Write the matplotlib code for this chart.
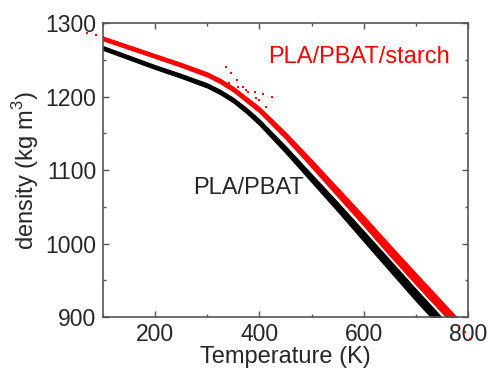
import matplotlib
matplotlib.use("Agg")
import matplotlib.pyplot as plt
import numpy as np
from matplotlib.ticker import MultipleLocator

plt.rcParams['font.family'] = ['Liberation Sans', 'DejaVu Sans']
plt.rcParams['mathtext.fontset'] = 'custom'
plt.rcParams['mathtext.rm'] = 'Liberation Sans'

# PLA/PBAT/starch (red) band centre and vertical half-spread
T_red = [60, 100, 150, 200, 250, 300, 325, 350, 375, 400, 450, 500, 550, 600, 650, 700, 768, 790]
rho_red = [1289, 1279, 1267, 1255, 1243, 1230, 1221, 1210, 1196, 1182, 1147, 1109, 1070, 1031, 991, 952, 900, 883]
spread_red = [2.6, 2.6, 2.6, 2.6, 2.7, 2.9, 3.0, 3.2, 3.4, 3.7, 4.4, 5.2, 6.0, 6.8, 7.4, 7.8, 7.8, 7.8]

# PLA/PBAT (black) band centre and vertical half-spread
T_blk = [60, 100, 150, 200, 250, 300, 325, 350, 375, 400, 450, 500, 550, 600, 650, 700, 739, 760]
rho_blk = [1276, 1266, 1253, 1240, 1228, 1215, 1206, 1195, 1181, 1165, 1128, 1089, 1050, 1010, 970, 930, 900, 883]
spread_blk = [2.6, 2.6, 2.6, 2.6, 2.7, 2.9, 3.0, 3.2, 3.5, 3.9, 4.6, 5.4, 6.2, 7.0, 7.6, 8.0, 8.0, 8.0]

# stray red points
T_stray = [335, 346, 357, 368, 378, 394, 310, 326, 342, 358, 374, 391, 406, 425, 400, 413,
           70, 87, 782, 795, 804]
rho_stray = [1240, 1232, 1222, 1213, 1206, 1198, 1227, 1222, 1218, 1213, 1209, 1206, 1203, 1199, 1195, 1186,
             1287, 1283, 888, 879, 870]

xlim = (100, 800)
ylim = (900, 1300)
xticks = [200, 400, 600, 800]
yticks = [900, 1000, 1100, 1200, 1300]

fig = plt.figure(figsize=(4.89, 3.74), dpi=100)
ax = fig.add_axes([0.2106, 0.1524, 0.7464, 0.7861])

Tb = np.array(T_blk); rb = np.array(rho_blk); sb = np.array(spread_blk)
Tr = np.array(T_red); rr = np.array(rho_red); sr = np.array(spread_red)
ax.fill_between(Tb, rb - sb, rb + sb, color='black', lw=0.8, edgecolor='black')
ax.fill_between(Tr, rr - sr, rr + sr, color='red', lw=0.8, edgecolor='red')
ax.plot(T_stray, rho_stray, ls='none', marker='s', ms=1.8, color='red', mew=0, clip_on=False)

ax.set_xlim(*xlim)
ax.set_ylim(*ylim)
ax.set_xticks(xticks)
ax.set_yticks(yticks)
ax.xaxis.set_minor_locator(MultipleLocator(100))
ax.yaxis.set_minor_locator(MultipleLocator(50))

spine_c = '#555555'
for s in ax.spines.values():
    s.set_color(spine_c)
    s.set_linewidth(1.2)
ax.tick_params(which='both', direction='in', top=True, right=True, colors=spine_c,
               labelcolor='#262626', labelsize=16.5)
ax.tick_params(which='major', length=4, width=1.0)
ax.tick_params(which='minor', length=2.5, width=1.0)
ax.tick_params(axis='x', pad=4)
ax.tick_params(axis='y', pad=5)

ax.set_xlabel('Temperature (K)', fontsize=17, color='#262626', labelpad=0)
ax.set_ylabel(r'density (kg m$^{\mathregular{3}}$)', fontsize=17, color='#262626', labelpad=3)

ax.text(416, 1245.6, 'PLA/PBAT/starch', color='red', fontsize=17, ha='left', va='baseline')
ax.text(272, 1067, 'PLA/PBAT', color='#262626', fontsize=17, ha='left', va='baseline')

fig.savefig('out.png', dpi=100)
